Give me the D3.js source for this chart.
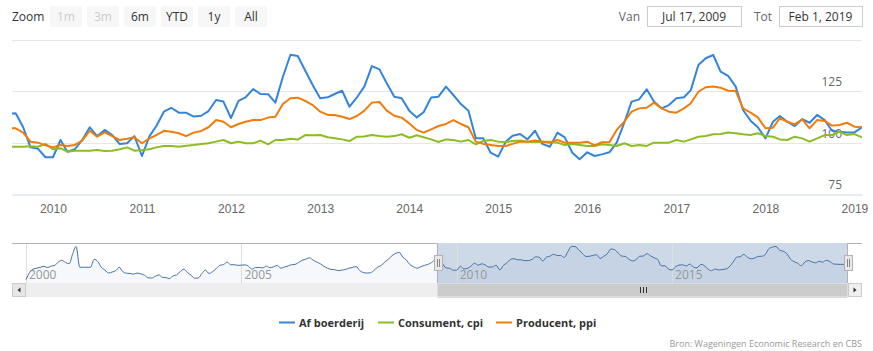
<!DOCTYPE html>
<html>
<head>
<meta charset="utf-8">
<script src="https://cdn.jsdelivr.net/npm/d3@7"></script>
<style>
body { margin: 0; background: #fff; }
svg { font-family: "Open Sans", sans-serif; display: block; }
</style>
</head>
<body>
<svg id="drawing_region"></svg>
<script>
// monthly values, first value = Jul 2009
const firstMonth = new Date(2009, 6, 1);
const boerderij = [
    114, 114.3, 107.5, 97.7, 97, 92.9,
    92.9, 101.3, 95.6, 96.8, 101.3, 107.5, 103.2, 106.2, 103.7, 99.4, 99.7, 103.2,
    93.5, 103.2, 108.1, 115.1, 117, 114.6, 114.6, 112.7, 113.1, 115.4, 120.8, 120,
    112, 120.4, 122.1, 126.1, 123.7, 123.6, 119.5, 132.1, 142.8, 142.2, 135, 128.1,
    121.6, 122.1, 123.7, 125.3, 117.5, 122.1, 127.3, 137.3, 135.7, 128.9, 122.4, 121.6,
    115.6, 112.3, 114.8, 122, 122.4, 127.3, 123.2, 118.8, 115.6, 102.1, 102.1, 95.1,
    93.2, 100.5, 103.4, 104.2, 101.6, 105.8, 99.4, 98, 104.9, 102.6, 95.1, 91.9,
    95.3, 93.5, 94.3, 95.3, 100, 109.7, 120, 121.1, 126, 120, 116.7, 118.3,
    121.6, 122.1, 125.6, 137.8, 141.1, 142.7, 134.6, 132.5, 127.3, 115.9, 110.7, 107.5,
    102.1, 110.2, 113, 110.2, 108.1, 111.4, 109.7, 113.5, 111, 105.8, 105.3, 105,
    105, 107.5
];
const consument = [
    98, 98, 98, 98.2, 98, 99.4,
    96.8, 97.3, 95.6, 96.1, 96.1, 96.1, 96.4, 95.9, 96.1, 96.8, 97.7, 96.1,
    96.4, 96.8, 97.7, 98.4, 98.4, 98, 98.5, 98.9, 99.4, 99.7, 100.5, 101.3,
    99.7, 100.5, 99.7, 99.7, 101, 99.2, 101.3, 101.3, 101.9, 101.5, 103.7, 103.6,
    103.7, 102.6, 102.1, 101.6, 100.8, 102.9, 103, 103.7, 103.2, 102.9, 103.2, 104.1,
    102.4, 103.6, 102.6, 101.6, 100.3, 101.6, 101.3, 100.5, 101.3, 99.2, 100.8, 101.3,
    100.5, 100.3, 100.8, 101, 100.5, 100.3, 100.5, 100.5, 100, 98.9, 99.4, 98.9,
    98.4, 98.4, 99.2, 98.9, 98.4, 99.7, 98.4, 98.9, 98.4, 100, 100, 100,
    101.3, 100.5, 101.6, 102.9, 103.2, 104.1, 104.2, 105, 104.6, 104.1, 103.7, 104.6,
    103.2, 102.9, 101.6, 101.3, 102.9, 102.1, 100.5, 102.1, 103.7, 103.7, 105.3, 103.7,
    104.2, 102.6
];
const producent = [
    107, 107, 104.9, 100.5, 100, 98.7,
    97.7, 98.9, 98.4, 98.9, 101, 105.8, 102.9, 105, 103.2, 101.3, 101.9, 102.6,
    99.7, 102.1, 103.7, 105.8, 105.3, 104.6, 103.2, 104.9, 105.7, 107.5, 111, 110.2,
    107.5, 109.1, 110.2, 111, 111, 112.2, 112.6, 118.8, 121.6, 121.9, 120.3, 118.3,
    115.1, 113.5, 113.5, 112.6, 111.5, 113, 115.6, 119.5, 119.8, 115.6, 113.1, 112.2,
    109.4, 106.2, 104.9, 106.5, 108.1, 109.1, 111, 109.1, 107.5, 100.5, 99.4, 98.9,
    98.4, 98.4, 99.4, 100.5, 100.5, 101, 100.5, 100, 101.3, 100, 100, 100,
    100.5, 98.7, 100.2, 100.2, 106.2, 110.2, 115.1, 116.7, 117, 119.5, 116.7, 115.1,
    114.6, 116.7, 119.2, 124.8, 127, 127.3, 126.8, 125.3, 125.2, 116.7, 114.6, 112.3,
    107, 107.3, 111.9, 110.2, 108.9, 111.4, 107, 111, 110.6, 108.3, 108.6, 109.7,
    107.8, 107.5
];
// Af boerderij before the selected range, Jan 2000 - Jun 2009 (navigator only)
const historyStart = new Date(2000, 0, 1);
const boerderijHistory = [
    73, 88, 95, 97, 99, 101, 98.5, 101.5, 103, 110, 113.5, 109,
    106.5, 128, 142.5, 99, 99, 99, 99, 115.5, 111, 99, 93, 87,
    89, 92, 99, 90, 86.5, 86, 84.6, 86.8, 85, 82.5, 77, 76.5,
    80, 83, 78, 77.4, 75.2, 81, 83, 90, 95, 88, 82.5, 76,
    76.5, 86, 93, 86, 89.7, 96, 103, 104.5, 110, 104.3, 104.3, 103,
    103.5, 104, 101.4, 95, 98.5, 98.5, 97.7, 101.4, 98, 100, 102.8, 97,
    99.5, 101.5, 104.3, 105, 109, 113.7, 115.9, 118.8, 114, 110, 106.4, 101,
    97, 94.5, 94, 91.9, 93, 94.1, 97, 98.5, 100.6, 92, 88, 86.8,
    87.5, 93, 99.2, 102.8, 110, 116, 123.2, 128, 130, 120, 113.7, 104.3,
    100, 97, 100, 102.8, 105, 109
];

const seriesNames = ['Af boerderij', 'Consument, cpi', 'Producent, ppi'];
const yTicks = [75, 100, 125, 150];
const yTickLabels = ['75', '100', '125', ''];
const zoomButtons = ['1m', '3m', '6m', 'YTD', '1y', 'All'];
const disabledButtons = ['1m', '3m'];
const rangeFrom = new Date(2009, 6, 17);
const rangeTo = new Date(2019, 1, 1);
const credits = 'Bron: Wageningen Economic Research en CBS';

const colors = ['#3485d9', '#8cbd22', '#f07c0c'];

const W = 873, H = 351;
const plot = { left: 12, right: 862, top: 40, bottom: 194 };
const nav = { left: 26, right: 848, top: 243, bottom: 283, scrollH: 14 };

const toPoints = (start, arr) => arr.map((v, i) => ({ date: d3.timeMonth.offset(start, i), value: v }));
const series = [boerderij, consument, producent].map((arr, i) => ({
    name: seriesNames[i], color: colors[i], points: toPoints(firstMonth, arr)
}));
const navPoints = toPoints(historyStart, boerderijHistory).concat(series[0].points);

const svg = d3.select('#drawing_region').attr('width', W).attr('height', H);
svg.append('defs').append('clipPath').attr('id', 'plotclip')
    .append('rect').attr('x', plot.left).attr('y', 0)
    .attr('width', plot.right - plot.left).attr('height', plot.bottom + 2);

// range selector
const rs = svg.append('g');
rs.append('text').attr('x', 12).attr('y', 20.5).attr('font-size', 12).attr('fill', '#333').text('Zoom');
zoomButtons.forEach((b, i) => {
    const bx = 50 + i * 37;
    rs.append('rect').attr('x', bx).attr('y', 6).attr('width', 32).attr('height', 21)
        .attr('rx', 2).attr('fill', '#f7f7f7');
    rs.append('text').attr('x', bx + 16).attr('y', 20.5).attr('text-anchor', 'middle')
        .attr('font-size', 12).attr('fill', disabledButtons.includes(b) ? '#cccccc' : '#333')
        .text(b);
});
const fmt = d3.timeFormat('%b %-d, %Y');
[[rangeFrom, 'Van', 647, 94], [rangeTo, 'Tot', 779, 83]].forEach(([d, label, bx, bw]) => {
    rs.append('text').attr('x', bx - 7).attr('y', 20.5).attr('text-anchor', 'end')
        .attr('font-size', 12).attr('fill', '#666').text(label);
    rs.append('rect').attr('x', bx + 0.5).attr('y', 6.5).attr('width', bw).attr('height', 20)
        .attr('fill', '#fff').attr('stroke', '#cccccc');
    rs.append('text').attr('x', bx + bw / 2).attr('y', 20.5).attr('text-anchor', 'middle')
        .attr('font-size', 12).attr('fill', '#333').text(fmt(d));
});

// main chart
const x = d3.scaleTime().domain([rangeFrom, rangeTo]).range([plot.left, plot.right]);
const y = d3.scaleLinear().domain([75, 150]).range([plot.bottom, plot.top]);

svg.append('g').selectAll('line').data(yTicks.slice(1)).join('line')
    .attr('x1', plot.left).attr('x2', plot.right)
    .attr('y1', d => Math.round(y(d)) + 0.5).attr('y2', d => Math.round(y(d)) + 0.5)
    .attr('stroke', '#e6e6e6');

svg.append('g').selectAll('text').data(yTicks).join('text')
    .attr('x', plot.right - 20).attr('y', d => y(d) - 5)
    .attr('text-anchor', 'end').attr('font-size', 12).attr('fill', '#666')
    .text((d, i) => yTickLabels[i]);

const xAxis = d3.axisBottom(x).ticks(d3.timeYear).tickFormat(d3.timeFormat('%Y'))
    .tickSize(0).tickPadding(10);
const xg = svg.append('g').attr('transform', `translate(0,${plot.bottom + 0.5})`).call(xAxis);
xg.select('.domain').attr('stroke', '#ccd6eb');
xg.selectAll('text').attr('font-size', 12).attr('fill', '#666').attr('font-family', null);

const line = d3.line().x(d => x(d.date)).y(d => y(d.value));
svg.append('g').attr('clip-path', 'url(#plotclip)')
    .selectAll('path').data(series).join('path')
    .attr('d', d => line(d.points))
    .attr('fill', 'none').attr('stroke', d => d.color)
    .attr('stroke-width', 2).attr('stroke-linejoin', 'round');

// navigator
const nx = d3.scaleTime().domain([historyStart, rangeTo]).range([nav.left, nav.right]);
const ext = d3.extent(navPoints, d => d.value);
const pad = (ext[1] - ext[0]) * 0.1;
const ny = d3.scaleLinear().domain([ext[0] - pad, ext[1] + pad]).range([nav.bottom, nav.top]);

const ng = svg.append('g');
ng.append('rect').attr('x', nx(rangeFrom)).attr('y', nav.top)
    .attr('width', nx(rangeTo) - nx(rangeFrom)).attr('height', nav.bottom - nav.top)
    .attr('fill', 'rgba(69,114,167,0.27)');

const navYears = nx.ticks(d3.timeYear.every(5));
ng.selectAll('line.grid').data(navYears).join('line').attr('class', 'grid')
    .attr('x1', d => Math.round(nx(d)) + 0.5).attr('x2', d => Math.round(nx(d)) + 0.5)
    .attr('y1', nav.top).attr('y2', nav.bottom).attr('stroke', '#e0e0e0');
ng.selectAll('text').data(navYears).join('text')
    .attr('x', d => nx(d) + 3).attr('y', nav.bottom - 4)
    .attr('font-size', 12).attr('fill', '#999').text(d3.timeFormat('%Y'));

const navArea = d3.area().curve(d3.curveMonotoneX)
    .x(d => nx(d.date)).y0(nav.bottom).y1(d => ny(d.value));
ng.append('path').attr('d', navArea(navPoints)).attr('fill', 'rgba(69,114,167,0.05)');
ng.append('path').attr('d', navArea.lineY1()(navPoints))
    .attr('fill', 'none').attr('stroke', '#4572a7').attr('stroke-width', 1);

// outline
const x0 = Math.round(nx(rangeFrom)) + 0.5, x1 = Math.round(nx(rangeTo)) - 0.5;
const sb = nav.bottom + nav.scrollH;
ng.append('path')
    .attr('d', `M${plot.left},${nav.top + 0.5}L${x0},${nav.top + 0.5}L${x0},${sb}L${x1},${sb}L${x1},${nav.top + 0.5}L${plot.right},${nav.top + 0.5}`)
    .attr('fill', 'none').attr('stroke', '#b2b1b6');

// scrollbar
const sg = svg.append('g');
sg.append('rect').attr('x', plot.left).attr('y', nav.bottom)
    .attr('width', plot.right - plot.left).attr('height', nav.scrollH).attr('fill', '#eeeeee');
sg.append('rect').attr('x', x0).attr('y', nav.bottom + 0.5)
    .attr('width', x1 - x0).attr('height', nav.scrollH - 1).attr('fill', '#cccccc');
const mid = (x0 + x1) / 2;
[-3, 0, 3].forEach(o => sg.append('line')
    .attr('x1', Math.round(mid + o) + 0.5).attr('x2', Math.round(mid + o) + 0.5)
    .attr('y1', nav.bottom + 4).attr('y2', nav.bottom + 10).attr('stroke', '#333'));
[[plot.left, -1, '#e6e6e6'], [nav.right, 1, '#efefef']].forEach(([bx, dir, fill]) => {
    sg.append('rect').attr('x', bx + 0.5).attr('y', nav.bottom + 0.5)
        .attr('width', nav.scrollH - 1).attr('height', nav.scrollH - 1)
        .attr('fill', fill).attr('stroke', '#cccccc');
    const cx = bx + nav.scrollH / 2, cy = nav.bottom + nav.scrollH / 2;
    sg.append('path').attr('d', `M${cx - 1.5 * dir},${cy - 2.5}L${cx - 1.5 * dir},${cy + 2.5}L${cx + 1.5 * dir},${cy}Z`)
        .attr('fill', '#333');
});

// handles
[x0, x1].forEach(hx => {
    const hg = svg.append('g').attr('transform', `translate(${Math.round(hx) - 4},255)`);
    hg.append('rect').attr('x', 0.5).attr('y', 0.5).attr('width', 8).attr('height', 15)
        .attr('fill', '#ebe7e8').attr('stroke', '#b2b1b6');
    [3.5, 5.5].forEach(lx => hg.append('line').attr('x1', lx).attr('x2', lx)
        .attr('y1', 4).attr('y2', 12).attr('stroke', '#888'));
});

// legend
const legendX = [279, 378, 496];
const lg = svg.append('g');
series.forEach((s, i) => {
    lg.append('line').attr('x1', legendX[i]).attr('x2', legendX[i] + 16)
        .attr('y1', 322.5).attr('y2', 322.5).attr('stroke', s.color).attr('stroke-width', 2);
    lg.append('text').attr('x', legendX[i] + 20).attr('y', 326.5)
        .attr('font-size', 11).attr('font-weight', 'bold').attr('fill', '#333').text(s.name);
});

svg.append('text').attr('x', plot.right).attr('y', 347).attr('text-anchor', 'end')
    .attr('font-size', 9).attr('fill', '#999').text(credits);
</script>
</body>
</html>
